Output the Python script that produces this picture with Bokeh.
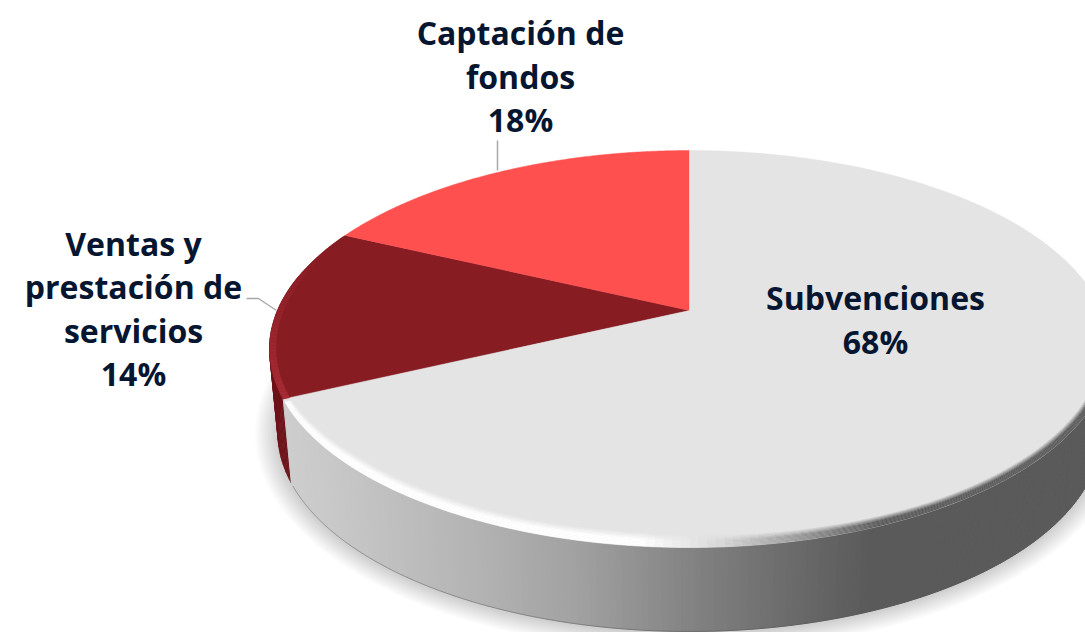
import numpy as np
from bokeh.plotting import figure
from bokeh.models import Range1d
from bokeh.core.properties import value
from bokeh.embed import file_html
from bokeh.resources import INLINE

# ---- data
categories = ["Subvenciones", "Ventas y prestación de servicios", "Captación de fondos"]
shares = [68, 14, 18]
face_colors = ["#e4e4e4", "#871c23", "#ff5050"]
side_colors = ["#c8c8c8", "#6d1219", "#ff5050"]
label_lines = [["Subvenciones", "68%"],
               ["Ventas y", "prestación de", "servicios", "14%"],
               ["Captación de", "fondos", "18%"]]

# ---- geometry of the perspective disc (page pixels)
CX, CY = 689.0, 310.0
RX, K, C = 412.0, 191.0, 0.194
DEPTH, SHRINK = 84.0, 0.98
TEXT = "#071630"
LEADER = "#a9a9a9"

def top(theta, r=1.0):
    t = np.radians(theta)
    u, v = r * np.sin(t), r * np.cos(t)
    d = 1 + C * v
    return CX + RX * u / d, CY - K * v / d

def bottom(theta, r=1.0):
    x, y = top(theta, r)
    return CX + (x - CX) * SHRINK, y + DEPTH

def hexc(g):
    g = int(round(max(0, min(255, g))))
    return f"#{g:02x}{g:02x}{g:02x}"

def mix(a, b, t):
    ca = [int(a[i:i + 2], 16) for i in (1, 3, 5)]
    cb = [int(b[i:i + 2], 16) for i in (1, 3, 5)]
    return "#" + "".join(f"{int(round(x + (y - x) * t)):02x}" for x, y in zip(ca, cb))

def side_gray(x):
    return float(np.interp(x, [285, 330, 480, 580, 700, 800, 870, 1090],
                           [205, 200, 178, 160, 128, 105, 90, 90]))

def rim_gray(x):
    return float(np.interp(x, [285, 640, 720, 800, 880, 1090],
                           [255, 255, 215, 150, 90, 90]))

def rim_width(theta):
    return float(np.interp(theta, [100, 150, 190, 225, 245], [0.016, 0.028, 0.045, 0.033, 0.014]))

p = figure(width=1085, height=632, x_range=Range1d(0, 1085), y_range=Range1d(632, 0),
           output_backend="svg", toolbar_location=None, min_border=0,
           outline_line_color=None, background_fill_color="white")
p.axis.visible = False
p.grid.visible = False

# slice boundaries, clockwise from the top
edges = np.concatenate([[0], np.cumsum(shares)]) * 360.0 / sum(shares)
start0, end0 = edges[0], edges[1]
end1 = edges[2]

# soft drop shadow
ang = np.linspace(0, 360, 241)
for i in range(1, 17):
    bx, by = bottom(ang)
    s = i * 1.45
    p.patch((bx - CX) * (1 + s / 412) + CX, (by - 433) * (1 + s / 240) + 434,
            fill_color="#000000", fill_alpha=0.012, line_color=None)

# dark red side
th = np.arange(end0, 281, 1.0)
for a, b in zip(th[:-1], th[1:]):
    tx0, ty0 = top(a); tx1, ty1 = top(b)
    bx0, by0 = bottom(a); bx1, by1 = bottom(b)
    p.patch([tx0, tx1, bx1, bx0], [ty0, ty1, by1, by0], fill_color=side_colors[1],
            line_color=side_colors[1], line_width=0.6)

# grey side: a horizontal gradient, in thin strips
th = np.arange(88, end0 + 0.01, 0.75)
for a, b in zip(th[:-1], th[1:]):
    tx0, ty0 = top(a); tx1, ty1 = top(b)
    bx0, by0 = bottom(a); bx1, by1 = bottom(b)
    c = hexc(side_gray((tx0 + tx1) / 2))
    p.patch([tx0, tx1, bx1, bx0], [ty0, ty1, by1, by0], fill_color=c, line_color=c, line_width=1.0)
th = np.arange(88, end0 + 0.01, 1.0)
bx, by = bottom(th)
p.line(bx, by, line_color="#555555", line_width=0.8, line_alpha=0.55)

# top faces
for i in [1, 2, 0]:
    a = np.linspace(edges[i], edges[i + 1], 200)
    x, y = top(a)
    p.patch(np.r_[CX, x], np.r_[CY, y], fill_color=face_colors[i], line_color=face_colors[i], line_width=0.5)

# rim of the grey slice, blurred towards the face
fracs = np.linspace(1.0, 0.0, 10)
th = np.arange(100, end0 + 0.01, 1.0)
for k in range(len(fracs) - 1):
    t = min(1.0, (k + 1) / 5.0)
    for a, b in zip(th[:-1], th[1:]):
        wa, wb = rim_width(a), rim_width(b)
        xa0, ya0 = top(a, 1 - wa * fracs[k]); xb0, yb0 = top(b, 1 - wb * fracs[k])
        xa1, ya1 = top(a, 1 - wa * fracs[k + 1]); xb1, yb1 = top(b, 1 - wb * fracs[k + 1])
        c = mix(face_colors[0], hexc(rim_gray((xa1 + xb1) / 2)), t)
        p.patch([xa0, xb0, xb1, xa1], [ya0, yb0, yb1, ya1], fill_color=c, line_color=c, line_width=0.3)

# rim of the dark red slice
th = np.arange(end0, end1 + 0.01, 1.0)
for a, b in zip(th[:-1], th[1:]):
    xa0, ya0 = top(a, 0.985); xb0, yb0 = top(b, 0.985)
    xa1, ya1 = top(a); xb1, yb1 = top(b)
    fade = max(0.0, 1 - (a - end0) / 45)
    c = mix(face_colors[1], "#a52b33", fade)
    p.patch([xa0, xb0, xb1, xa1], [ya0, yb0, yb1, ya1], fill_color=c, line_color=c, line_width=0.3)

# leader lines
p.line([497, 497], [140, 170], line_color=LEADER, line_width=1.5)
p.line([246, 258, 276], [298, 298, 310], line_color=LEADER, line_width=1.5)

# labels
anchors = [(875, [297, 341]), (133, [243, 286, 330, 373]), (520, [32, 76, 119])]
for (lx, ys), lines in zip(anchors, label_lines):
    p.text([lx] * len(lines), ys, text=lines, text_font=value("Open Sans"), text_font_style="bold",
           text_font_size="32px", text_color=TEXT, text_align="center", text_baseline="middle")

open("out.html", "w").write(file_html(p, INLINE))
